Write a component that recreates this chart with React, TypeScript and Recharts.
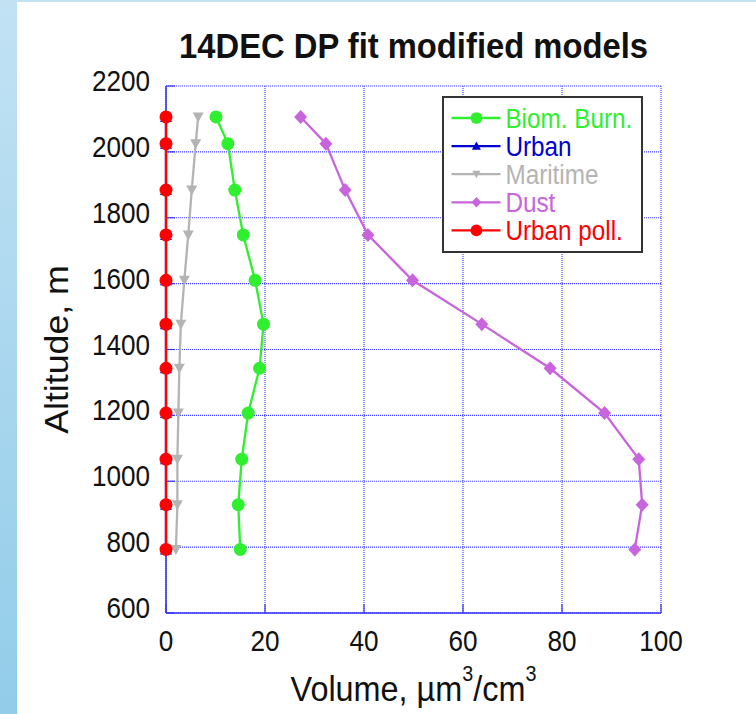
import React from 'react';
import { ScatterChart, Scatter, XAxis, YAxis, CartesianGrid, Legend, Label } from 'recharts';

// ---- data ----
const ALTITUDES = [2106, 2025, 1884, 1748, 1610, 1477, 1343, 1207, 1067, 929, 793];
const BIOM_BURN = [10.1, 12.5, 13.9, 15.6, 18.0, 19.7, 18.9, 16.6, 15.3, 14.6, 15.0];
const URBAN = [0, 0, 0, 0, 0, 0, 0, 0, 0, 0, 0];
const MARITIME = [6.5, 6.0, 5.2, 4.5, 3.7, 3.0, 2.7, 2.5, 2.3, 2.3, 2.0];
const DUST = [27.2, 32.3, 36.2, 40.8, 49.8, 63.8, 77.6, 88.6, 95.5, 96.2, 94.7];
const URBAN_POLL = [0, 0, 0, 0, 0, 0, 0, 0, 0, 0, 0];

const X_TICKS = [0, 20, 40, 60, 80, 100];
const Y_TICKS = [600, 800, 1000, 1200, 1400, 1600, 1800, 2000, 2200];

const SERIES_NAMES = ['Biom. Burn.', 'Urban', 'Maritime', 'Dust', 'Urban poll.'];
const SERIES_VALUES = [BIOM_BURN, URBAN, MARITIME, DUST, URBAN_POLL];
const SERIES_COLORS = ['#2ef02e', '#0000d0', '#b4b4b4', '#c864dc', '#ff0000'];
const SERIES_MARKERS = ['circle', 'triangleUp', 'triangleDown', 'diamond', 'circle'];

const TITLE = '14DEC DP fit modified models';
const Y_LABEL = 'Altitude, m';

const FONT = '"Liberation Sans", Arial, Helvetica, sans-serif';
const AXIS_COLOR = '#3535f5';
const GRID_COLOR = '#3c3cff';

function Marker({ kind, cx, cy, color, s = 1 }: any) {
  if (cx == null || cy == null) return null;
  switch (kind) {
    case 'circle':
      return <circle cx={cx} cy={cy} r={6.5 * s} fill={color} />;
    case 'triangleUp':
      return (
        <polygon
          points={`${cx - 6 * s},${cy + 5 * s} ${cx + 6 * s},${cy + 5 * s} ${cx},${cy - 6 * s}`}
          fill={color}
        />
      );
    case 'triangleDown':
      return (
        <polygon
          points={`${cx - 5.5 * s},${cy - 4.5 * s} ${cx + 5.5 * s},${cy - 4.5 * s} ${cx},${cy + 5.5 * s}`}
          fill={color}
        />
      );
    case 'diamond':
      return (
        <polygon
          points={`${cx},${cy - 7 * s} ${cx + 6.5 * s},${cy} ${cx},${cy + 7 * s} ${cx - 6.5 * s},${cy}`}
          fill={color}
        />
      );
    default:
      return null;
  }
}

const XTick = (p: any) => (
  <text
    transform={`translate(${p.x},${p.y + 47}) scale(0.87,1)`}
    textAnchor="middle"
    fontSize={30}
    fontFamily={FONT}
    fill="#111"
  >
    {p.payload.value}
  </text>
);

const YTick = (p: any) => (
  <text
    transform={`translate(${p.x - 25},${p.y + 5}) scale(0.87,1)`}
    textAnchor="end"
    fontSize={30}
    fontFamily={FONT}
    fill="#111"
  >
    {p.payload.value}
  </text>
);

const XLabel = (props: any) => {
  const vb = props.viewBox || { x: 166, y: 613, width: 495, height: 100 };
  const cx = vb.x + vb.width / 2;
  return (
    <text
      transform={`translate(${cx},${vb.y + 88}) scale(0.9,1)`}
      textAnchor="middle"
      fontSize={36}
      fontFamily={FONT}
      fill="#111"
    >
      Volume, µm
      <tspan dy={-20} fontSize={22}>3</tspan>
      <tspan dy={20}>/cm</tspan>
      <tspan dy={-20} fontSize={22}>3</tspan>
    </text>
  );
};

const YLabel = (props: any) => {
  const vb = props.viewBox || { x: 0, y: 86, width: 166, height: 527 };
  const cy = vb.y + vb.height / 2;
  return (
    <text
      transform={`translate(68,${cy}) rotate(-90) scale(1.05,1)`}
      textAnchor="middle"
      fontSize={34}
      fontFamily={FONT}
      fill="#111"
    >
      {Y_LABEL}
    </text>
  );
};

const LegendBox = () => (
  <svg width={202} height={158} style={{ display: 'block' }}>
    <rect x={1} y={1} width={199} height={155} fill="#fff" stroke="#333" strokeWidth={2} />
    {SERIES_NAMES.map((name, i) => {
      const y = 22 + i * 28.1;
      const s = SERIES_MARKERS[i] === 'circle' ? 0.9 : 0.75;
      return (
        <g key={name}>
          <line x1={9.5} x2={58.5} y1={y} y2={y} stroke={SERIES_COLORS[i]} strokeWidth={2.3} />
          <Marker kind={SERIES_MARKERS[i]} cx={34.4} cy={y} color={SERIES_COLORS[i]} s={s} />
          <text
            transform={`translate(63.4,${y + 9.7}) scale(0.9,1)`}
            fontSize={27}
            fontFamily={FONT}
            fill={SERIES_COLORS[i]}
          >
            {name}
          </text>
        </g>
      );
    })}
  </svg>
);

export default function App() {
  const seriesData = SERIES_VALUES.map((vals) =>
    ALTITUDES.map((alt, i) => ({ x: vals[i], y: alt }))
  );
  return (
    <div
      style={{
        position: 'absolute',
        left: 0,
        top: 0,
        width: 756,
        height: 714,
        background: '#fff',
        overflow: 'hidden',
        fontFamily: FONT,
      }}
    >
      <div
        style={{
          position: 'absolute',
          left: 0,
          top: 0,
          width: 17,
          height: 714,
          background: 'linear-gradient(#c2e2f4, #92cce9)',
        }}
      />
      <div
        style={{
          position: 'absolute',
          left: 0,
          top: 0,
          width: 756,
          height: 2,
          background: '#c2e2f4',
        }}
      />
      <svg width={756} height={80} style={{ position: 'absolute', left: 0, top: 0 }}>
        <text
          transform="translate(413.5,58) scale(0.91,1)"
          textAnchor="middle"
          fontSize={36}
          fontWeight="bold"
          fontFamily={FONT}
          fill="#111"
        >
          {TITLE}
        </text>
      </svg>
      <div style={{ position: 'absolute', left: 0, top: 0 }}>
        <ScatterChart
          width={756}
          height={714}
          margin={{ top: 86, right: 95, bottom: 0, left: 0 }}
        >
          <CartesianGrid
            xAxisId="b"
            yAxisId="l"
            stroke={GRID_COLOR}
            strokeDasharray="1 1"
            strokeWidth={1.1}
          />
          <XAxis
            xAxisId="b"
            type="number"
            dataKey="x"
            orientation="bottom"
            domain={[0, 100]}
            ticks={X_TICKS}
            interval={0}
            height={101}
            axisLine={{ stroke: AXIS_COLOR, strokeWidth: 1.6 }}
            tickLine={{ stroke: AXIS_COLOR, strokeWidth: 1.2 }}
            tickSize={-9}
            tickMargin={0}
            tick={XTick}
          >
            <Label content={XLabel} />
          </XAxis>
          <XAxis
            xAxisId="t"
            type="number"
            orientation="top"
            domain={[0, 100]}
            ticks={X_TICKS}
            interval={0}
            height={0}
            axisLine={{ stroke: AXIS_COLOR, strokeWidth: 1.6 }}
            tickLine={{ stroke: AXIS_COLOR, strokeWidth: 1.2 }}
            tickSize={-9}
            tick={false}
          />
          <YAxis
            yAxisId="l"
            type="number"
            dataKey="y"
            orientation="left"
            domain={[600, 2200]}
            ticks={Y_TICKS}
            interval={0}
            width={166}
            axisLine={{ stroke: AXIS_COLOR, strokeWidth: 1.6 }}
            tickLine={{ stroke: AXIS_COLOR, strokeWidth: 1.2 }}
            tickSize={-9}
            tickMargin={0}
            tick={YTick}
          >
            <Label content={YLabel} />
          </YAxis>
          <YAxis
            yAxisId="r"
            type="number"
            orientation="right"
            domain={[600, 2200]}
            ticks={Y_TICKS}
            interval={0}
            width={0}
            axisLine={{ stroke: AXIS_COLOR, strokeWidth: 1.6 }}
            tickLine={{ stroke: AXIS_COLOR, strokeWidth: 1.2 }}
            tickSize={-9}
            tick={false}
          />
          {SERIES_NAMES.map((name, i) => (
            <Scatter
              key={name}
              name={name}
              xAxisId="b"
              yAxisId="l"
              data={seriesData[i]}
              fill={SERIES_COLORS[i]}
              line={{ stroke: SERIES_COLORS[i], strokeWidth: 2.3 }}
              lineType="joint"
              isAnimationActive={false}
              shape={(p: any) => (
                <Marker kind={SERIES_MARKERS[i]} cx={p.cx} cy={p.cy} color={SERIES_COLORS[i]} />
              )}
            />
          ))}
          <Legend
            layout="vertical"
            align="center"
            verticalAlign="middle"
            content={LegendBox}
            wrapperStyle={{ position: 'absolute', left: 442, top: 96, width: 202, height: 158 }}
          />
        </ScatterChart>
      </div>
    </div>
  );
}
